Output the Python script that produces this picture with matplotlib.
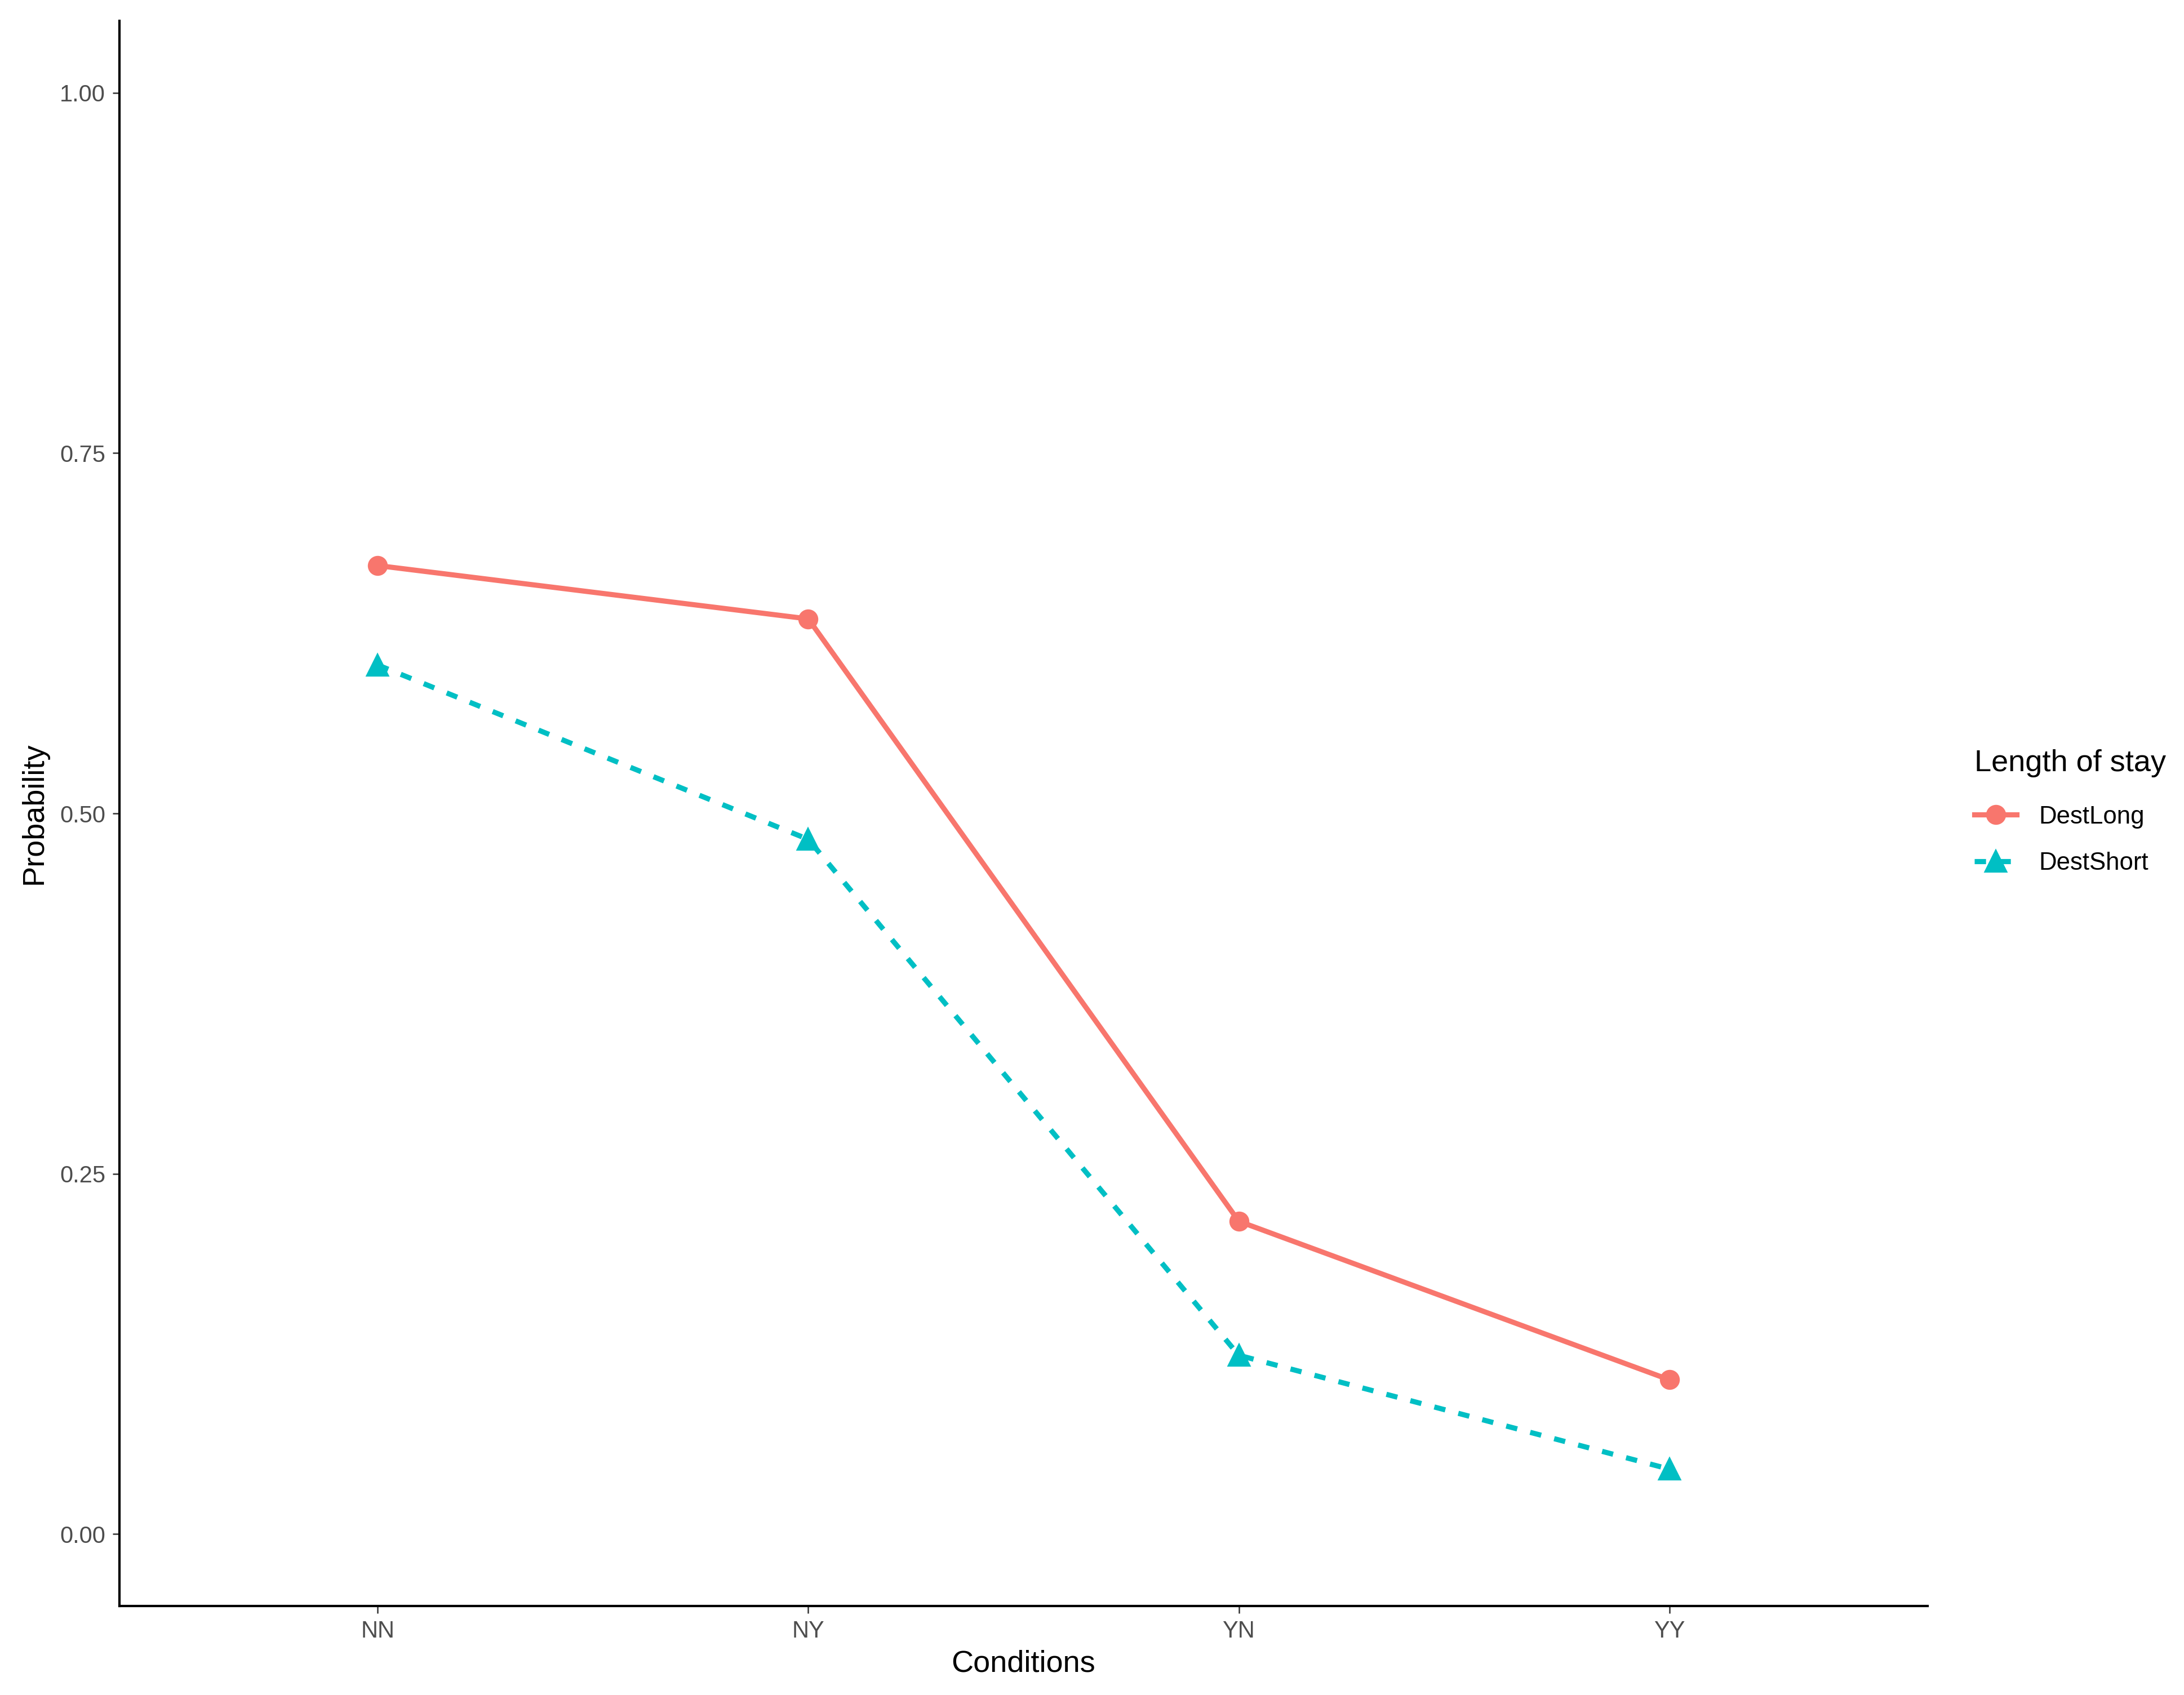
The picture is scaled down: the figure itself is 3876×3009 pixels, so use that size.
import matplotlib.pyplot as plt
from matplotlib.lines import Line2D

# Values
conditions = ['NN', 'NY', 'YN', 'YY']
dest_long = [0.672, 0.635, 0.217, 0.107]
dest_short = [0.603, 0.482, 0.124, 0.045]
y_ticks = [0.00, 0.25, 0.50, 0.75, 1.00]

plt.rcParams['font.family'] = ['Liberation Sans', 'DejaVu Sans']

red = '#F8766D'
cyan = '#00BFC4'
lw = 2.2

fig = plt.figure(figsize=(3876 / 300, 3009 / 300), dpi=300)
ax = fig.add_axes([0.0547, 0.0525, 0.8279, 0.9352])

x = list(range(1, len(conditions) + 1))
ax.plot(x, dest_long, color=red, linewidth=lw, marker='o', markersize=7.5,
        label='DestLong')
ax.plot(x, dest_short, color=cyan, linewidth=lw, marker='^', markersize=8.5,
        linestyle=(0, (2.2, 2.6)), label='DestShort')

ax.set_xlim(0.4, 4.6)
ax.set_ylim(-0.05, 1.05)
ax.set_xticks(x)
ax.set_xticklabels(conditions)
ax.set_yticks(y_ticks)
ax.set_yticklabels(['%.2f' % v for v in y_ticks])

for side in ['top', 'right']:
    ax.spines[side].set_visible(False)
for side in ['left', 'bottom']:
    ax.spines[side].set_linewidth(1.0)
    ax.spines[side].set_color('black')

ax.tick_params(axis='both', length=3, width=0.6, color='#333333',
               labelcolor='#4D4D4D', labelsize=10, pad=3)
ax.set_xlabel('Conditions', fontsize=13, labelpad=3)
ax.set_ylabel('Probability', fontsize=13, labelpad=5)

handles = [
    Line2D([0], [0], color=red, linewidth=lw, marker='o', markersize=7.5),
    Line2D([0], [0], color=cyan, linewidth=lw, marker='^', markersize=8.5,
           linestyle=(0, (2.2, 2.6))),
]
leg = fig.legend(handles, ['DestLong', 'DestShort'], title='Length of stay',
                 loc='center left', bbox_to_anchor=(0.8996, 0.521),
                 frameon=False, fontsize=10.5, title_fontsize=13,
                 handlelength=1.7, handletextpad=0.9, labelspacing=0.95,
                 borderaxespad=0.0)
leg._legend_box.align = 'left'
leg._legend_box.sep = 12

fig.savefig('out.png', dpi=300, facecolor='white')
